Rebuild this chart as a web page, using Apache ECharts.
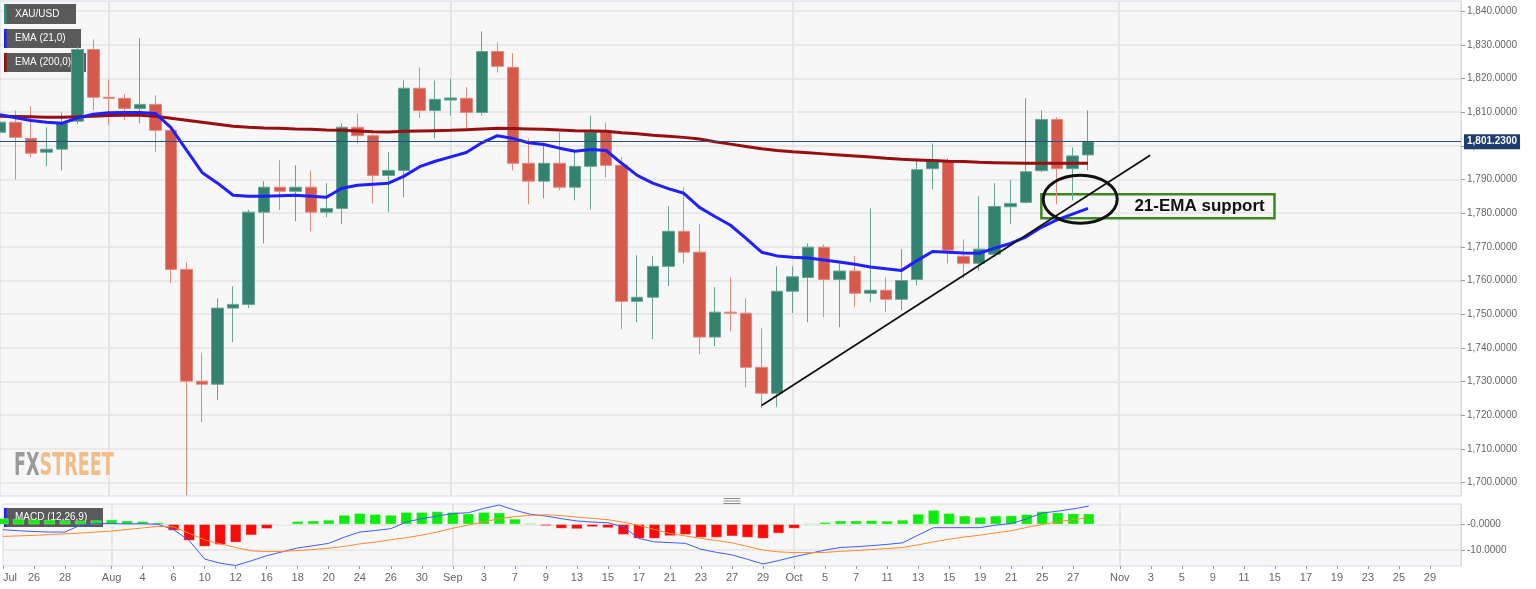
<!DOCTYPE html>
<html>
<head>
<meta charset="utf-8">
<title>XAU/USD daily</title>
<script src="https://cdn.jsdelivr.net/npm/echarts@6.0.0/dist/echarts.min.js"></script>
<style>
  html, body { margin: 0; padding: 0; background: #fff; }
  #chart { width: 1536px; height: 589px; }
</style>
</head>
<body>
<div id="chart"></div>
<script>
// trading days shown on the axis (Jul 22 - Dec 1, 2021)
const categories = [
  '2021-07-22','2021-07-23','2021-07-26','2021-07-27','2021-07-28','2021-07-29','2021-07-30',
  '2021-08-02','2021-08-03','2021-08-04','2021-08-05','2021-08-06','2021-08-09','2021-08-10','2021-08-11','2021-08-12','2021-08-13',
  '2021-08-16','2021-08-17','2021-08-18','2021-08-19','2021-08-20','2021-08-23','2021-08-24','2021-08-25','2021-08-26','2021-08-27',
  '2021-08-30','2021-08-31',
  '2021-09-01','2021-09-02','2021-09-03','2021-09-06','2021-09-07','2021-09-08','2021-09-09','2021-09-10',
  '2021-09-13','2021-09-14','2021-09-15','2021-09-16','2021-09-17','2021-09-20','2021-09-21','2021-09-22','2021-09-23','2021-09-24',
  '2021-09-27','2021-09-28','2021-09-29','2021-09-30',
  '2021-10-01','2021-10-04','2021-10-05','2021-10-06','2021-10-07','2021-10-08','2021-10-11','2021-10-12','2021-10-13','2021-10-14','2021-10-15',
  '2021-10-18','2021-10-19','2021-10-20','2021-10-21','2021-10-22','2021-10-25','2021-10-26','2021-10-27','2021-10-28','2021-10-29',
  '2021-11-01','2021-11-02','2021-11-03','2021-11-04','2021-11-05','2021-11-08','2021-11-09','2021-11-10','2021-11-11','2021-11-12',
  '2021-11-15','2021-11-16','2021-11-17','2021-11-18','2021-11-19','2021-11-22','2021-11-23','2021-11-24','2021-11-25','2021-11-26',
  '2021-11-29','2021-11-30','2021-12-01'
];

const opens = [
  1804.0, 1807.0, 1802.2, 1798.1, 1799.0, 1807.3, 1828.6, 1814.4, 1814.1, 1811.1,
  1812.3, 1804.6, 1763.3, 1730.1, 1729.2, 1751.8, 1752.9, 1780.3, 1787.7, 1786.5,
  1787.7, 1780.3, 1781.4, 1805.5, 1803.0, 1791.2, 1792.7, 1817.1, 1810.5, 1813.6,
  1814.1, 1809.9, 1828.0, 1823.3, 1794.8, 1789.5, 1794.8, 1787.7, 1793.9, 1804.0,
  1794.2, 1753.8, 1755.0, 1764.2, 1774.6, 1768.4, 1743.2, 1750.6, 1750.3, 1734.2,
  1726.5, 1756.8, 1760.9, 1769.9, 1760.3, 1762.8, 1756.2, 1757.1, 1754.4, 1760.3,
  1793.2, 1795.4, 1767.2, 1765.1, 1767.8, 1781.9, 1783.2, 1792.6, 1807.8, 1793.2,
  1797.3
];
const closes = [
  1807.0, 1802.5, 1797.8, 1799.0, 1806.7, 1828.6, 1814.4, 1814.1, 1811.1, 1812.3,
  1804.6, 1763.3, 1730.1, 1729.2, 1751.8, 1752.9, 1780.3, 1787.7, 1786.5, 1787.7,
  1780.3, 1781.4, 1805.5, 1803.0, 1791.2, 1792.7, 1817.1, 1810.5, 1813.8, 1814.2,
  1809.9, 1828.0, 1823.6, 1794.8, 1789.5, 1794.8, 1787.7, 1793.9, 1804.0, 1794.2,
  1753.8, 1755.0, 1764.2, 1774.6, 1768.4, 1743.2, 1750.6, 1750.3, 1734.2, 1726.5,
  1756.8, 1761.1, 1769.9, 1760.3, 1762.8, 1756.2, 1757.1, 1754.4, 1760.0, 1792.9,
  1795.7, 1769.0, 1765.1, 1769.3, 1782.0, 1782.9, 1792.3, 1807.8, 1793.2, 1797.0,
  1801.23
];
// Aug 9 low runs off the bottom of the visible price range
const lows = [
  1793.3, 1790.0, 1796.6, 1793.9, 1792.7, 1806.5, 1810.5, 1806.1, 1807.6, 1806.7,
  1798.1, 1759.2, 1696.2, 1717.9, 1724.5, 1741.7, 1751.8, 1771.0, 1780.9, 1777.6,
  1774.6, 1778.8, 1776.7, 1800.7, 1782.9, 1780.3, 1784.7, 1808.2, 1802.2, 1809.0,
  1805.2, 1809.0, 1821.8, 1792.7, 1782.6, 1784.4, 1786.8, 1783.8, 1781.1, 1790.6,
  1745.5, 1747.6, 1742.6, 1758.3, 1765.1, 1738.1, 1740.5, 1744.9, 1728.3, 1722.1,
  1722.4, 1750.3, 1747.6, 1749.1, 1746.1, 1752.1, 1753.5, 1750.6, 1751.2, 1758.6,
  1787.1, 1765.1, 1760.6, 1763.0, 1767.0, 1776.7, 1782.9, 1792.1, 1782.6, 1783.8,
  1792.7
];
const highs = [
  1809.9, 1810.5, 1811.7, 1805.5, 1809.9, 1829.5, 1831.6, 1819.7, 1815.3, 1831.9,
  1815.0, 1805.5, 1765.4, 1738.4, 1754.7, 1758.3, 1781.0, 1789.5, 1795.7, 1794.2,
  1792.7, 1788.9, 1806.7, 1809.6, 1803.5, 1798.1, 1819.4, 1823.3, 1819.4, 1820.0,
  1817.4, 1834.0, 1830.7, 1827.5, 1802.2, 1801.0, 1804.0, 1798.7, 1809.0, 1806.9,
  1796.6, 1767.5, 1767.2, 1782.0, 1787.7, 1776.7, 1758.0, 1760.9, 1754.7, 1745.8,
  1764.2, 1764.2, 1771.0, 1770.7, 1765.1, 1767.2, 1781.4, 1760.9, 1769.3, 1796.3,
  1800.7, 1796.3, 1772.2, 1785.0, 1788.9, 1789.8, 1814.1, 1810.5, 1808.5, 1799.5,
  1810.5
];

const ema21 = [
  1809.2, 1808.3, 1807.5, 1807.0, 1806.7, 1808.3, 1809.4, 1809.8, 1809.9, 1809.9,
  1809.6, 1805.4, 1798.7, 1792.1, 1788.9, 1785.3, 1785.0, 1785.0, 1785.2, 1785.3,
  1785.0, 1784.7, 1787.4, 1788.3, 1788.6, 1788.9, 1791.0, 1793.8, 1795.4, 1796.7,
  1798.0, 1800.9, 1803.0, 1802.2, 1800.9, 1800.4, 1799.3, 1798.4, 1798.9, 1798.6,
  1794.8, 1791.2, 1788.9, 1787.3, 1785.9, 1781.7, 1779.0, 1776.4, 1772.5, 1768.4,
  1767.3, 1766.9, 1766.7, 1766.1, 1765.5, 1764.8, 1764.0, 1763.5, 1763.0, 1765.9,
  1768.6, 1768.4, 1768.2, 1768.1, 1769.6, 1771.0, 1772.9, 1775.8, 1778.0, 1779.7,
  1781.4
];
const ema200 = [
  1808.8, 1808.7, 1808.6, 1808.5, 1808.5, 1808.6, 1808.8, 1809.0, 1809.1, 1809.1,
  1808.8, 1808.2, 1807.6, 1807.0, 1806.4, 1805.8, 1805.5, 1805.3, 1805.2, 1805.0,
  1804.9, 1804.7, 1804.6, 1804.4, 1804.2, 1804.1, 1804.3, 1804.4, 1804.5, 1804.6,
  1804.8, 1805.0, 1805.2, 1805.1, 1805.0, 1804.9, 1804.7, 1804.5, 1804.4, 1804.3,
  1803.9, 1803.6, 1803.1, 1802.8, 1802.5, 1802.0, 1801.2, 1800.5, 1799.8, 1799.1,
  1798.6, 1798.2, 1797.9, 1797.6, 1797.3, 1797.0, 1796.7, 1796.3, 1796.0, 1795.8,
  1795.6, 1795.4, 1795.3, 1795.1, 1795.0, 1794.9, 1794.8, 1794.8, 1794.8, 1794.8,
  1794.8
];

// MACD (12,26,9)
const macdLine = [
  -2.1, -2.5, -2.8, -3.0, -3.0, -0.3, 0.3, 0.3, 0.2, 0.2,
  0.0, -2.1, -6.3, -13.5, -15.1, -16.0, -14.2, -12.2, -10.7, -9.2,
  -8.3, -7.4, -5.0, -3.0, -2.4, -1.7, 0.9, 2.2, 3.2, 4.2,
  4.5, 6.2, 7.5, 5.5, 3.9, 3.2, 2.2, 1.3, 0.9, 0.6,
  -1.0, -5.5, -6.8, -7.1, -7.4, -9.7, -10.9, -11.9, -13.6, -15.4,
  -14.1, -12.6, -11.3, -10.0, -9.0, -8.7, -8.3, -7.8, -7.2, -4.2,
  -1.3, -1.3, -1.3, -1.3, -0.3, 0.3, 2.1, 4.4, 5.1, 6.0,
  7.1
];
const signalLine = [
  -4.7, -4.5, -4.3, -4.0, -3.7, -3.4, -3.0, -2.6, -2.0, -1.4,
  -0.8, -1.0, -3.5, -6.0, -7.6, -9.0, -10.3, -10.6, -10.5, -10.2,
  -9.8, -9.3, -8.6, -7.6, -6.9, -6.0, -5.2, -4.2, -3.0, -1.5,
  -0.3, 1.0, 2.2, 3.0, 3.5, 3.7, 3.4, 2.8, 2.3, 1.8,
  0.8, -0.4, -2.0, -3.6, -4.5, -5.5, -6.3, -7.2, -8.6, -10.0,
  -10.7, -11.0, -11.0, -10.9, -10.5, -10.2, -9.8, -9.4, -9.0, -8.0,
  -6.8, -5.8, -4.9, -4.2, -3.3, -2.5, -1.2, -0.1, 1.0, 1.8,
  2.6
];
const macdHist = [
  2.3, 2.1, 1.9, 1.7, 1.5, 1.4, 1.5, 1.8, 1.4, 1.2,
  0.65, -2.4, -6.3, -8.6, -7.9, -7.0, -4.2, -1.7, -0.1, 1.2,
  1.4, 1.7, 3.6, 4.3, 3.9, 3.6, 4.7, 4.7, 5.0, 4.7,
  4.1, 4.7, 4.5, 2.1, 0.4, -0.6, -1.6, -1.8, -1.0, -1.4,
  -4.0, -5.5, -5.5, -4.5, -4.0, -5.1, -5.1, -4.6, -5.1, -5.5,
  -3.5, -1.6, 0.3, 0.8, 1.4, 1.4, 1.5, 1.3, 1.7, 4.0,
  5.5, 4.3, 3.3, 2.8, 3.3, 3.4, 3.9, 5.0, 4.5, 4.2,
  4.1
];

// axis ticks
const priceTicks = [1700, 1710, 1720, 1730, 1740, 1750, 1760, 1770, 1780, 1790, 1800, 1810, 1820, 1830, 1840];
const macdTicks = [-10, 0];
const tickDates = [
  '2021-07-22','2021-07-26','2021-07-28','2021-08-02','2021-08-04','2021-08-06','2021-08-10','2021-08-12',
  '2021-08-16','2021-08-18','2021-08-20','2021-08-24','2021-08-26','2021-08-30','2021-09-01','2021-09-03',
  '2021-09-07','2021-09-09','2021-09-13','2021-09-15','2021-09-17','2021-09-21','2021-09-23','2021-09-27',
  '2021-09-29','2021-10-01','2021-10-05','2021-10-07','2021-10-11','2021-10-13','2021-10-15','2021-10-19',
  '2021-10-21','2021-10-25','2021-10-27','2021-11-01','2021-11-03','2021-11-05','2021-11-09','2021-11-11',
  '2021-11-15','2021-11-17','2021-11-19','2021-11-23','2021-11-25','2021-11-29'
];
const tickTexts = [
  'Jul','26','28','Aug','4','6','10','12',
  '16','18','20','24','26','30','Sep','3',
  '7','9','13','15','17','21','23','27',
  '29','Oct','5','7','11','13','15','19',
  '21','25','27','Nov','3','5','9','11',
  '15','17','19','23','25','29'
];
const monthStarts = ['2021-08-02','2021-09-01','2021-10-01','2021-11-01'];

const lastPrice = 1801.23;
// annotations (data coordinates)
const trendLine = [['2021-09-29', 1722.9], ['2021-11-03', 1797.2]];
const supportBox = [['2021-10-25', 1785.6], ['2021-11-15', 1778.5]];
const circleDays = ['2021-10-27', '2021-10-28'];
const circleLevel = 1784.1;

const upColor = '#33826f', downColor = '#d65a4b';
const font = '"Liberation Sans", Arial, sans-serif';

function fmt4(v) {
  const parts = Math.abs(v).toFixed(4).split('.');
  const whole = parts[0].replace(/\B(?=(\d{3})+(?!\d))/g, ',');
  return (v < 0 ? '-' : '') + whole + '.' + parts[1];
}
const tickMap = {};
tickDates.forEach((d, i) => { tickMap[d] = tickTexts[i]; });

const candles = opens.map((o, i) => [o, closes[i], lows[i], highs[i]]);

const chart = echarts.init(document.getElementById('chart'));

const xBase = {
  type: 'category',
  data: categories,
  boundaryGap: false,
  axisLine: { show: false, onZero: false },
  splitLine: {
    show: true,
    interval: (idx, val) => monthStarts.indexOf(val) >= 0,
    lineStyle: { color: '#e6e6e6', width: 2 }
  }
};

chart.setOption({
  animation: false,
  backgroundColor: '#ffffff',
  textStyle: { fontFamily: font },
  grid: [
    { left: 0, right: 75, top: 1, height: 495, show: true, backgroundColor: '#f7f7f7', borderColor: '#d3dae8', borderWidth: 1 },
    { left: 0, right: 75, top: 504, height: 62, show: true, backgroundColor: '#f7f7f7', borderColor: '#d3dae8', borderWidth: 1 }
  ],
  xAxis: [
    Object.assign({}, xBase, { gridIndex: 0, axisTick: { show: false }, axisLabel: { show: false } }),
    Object.assign({}, xBase, {
      gridIndex: 1,
      axisTick: {
        show: true, length: 3,
        interval: (idx, val) => tickMap[val] !== undefined,
        lineStyle: { color: '#999' }
      },
      axisLabel: {
        show: true,
        interval: (idx, val) => tickMap[val] !== undefined,
        formatter: (val) => tickMap[val] || '',
        color: '#666', fontSize: 11, margin: 6,
        alignMinLabel: 'left'
      }
    })
  ],
  yAxis: [
    {
      gridIndex: 0, type: 'value', position: 'right',
      min: 1696, max: 1843, minInterval: 10, maxInterval: 10,
      axisLine: { show: true, lineStyle: { color: '#d3dae8' } },
      axisTick: { show: true, length: 4, customValues: priceTicks, lineStyle: { color: '#999' } },
      axisLabel: {
        color: '#666', fontSize: 10, margin: 6, customValues: priceTicks,
        formatter: (v) => (Math.abs(v % 10) < 1e-6 ? fmt4(v) : '')
      },
      splitLine: { lineStyle: { color: '#e4e4e4', width: 1.5 } }
    },
    {
      gridIndex: 1, type: 'value', position: 'right',
      min: -16.2, max: 7.9, minInterval: 10, maxInterval: 10,
      axisLine: { show: true, lineStyle: { color: '#d3dae8' } },
      axisTick: { show: true, length: 4, customValues: macdTicks, lineStyle: { color: '#999' } },
      axisLabel: {
        color: '#666', fontSize: 10, margin: 6, customValues: macdTicks,
        formatter: (v) => {
          if (Math.abs(v % 10) > 1e-6) return '';
          return v === 0 ? '-0.0000' : fmt4(v);
        }
      },
      splitLine: { lineStyle: { color: '#e4e4e4', width: 1.5 } }
    }
  ],
  series: [
    {
      name: 'XAU/USD', type: 'candlestick',
      xAxisIndex: 0, yAxisIndex: 0,
      data: candles, barWidth: 12, clip: true,
      itemStyle: {
        color: upColor, color0: downColor,
        borderColor: '#67a493', borderColor0: '#e3897e', borderWidth: 1
      },
      markLine: {
        silent: true, symbol: 'none',
        lineStyle: { color: '#2b4c80', width: 1, type: 'solid' },
        label: {
          position: 'end', distance: 3,
          formatter: () => fmt4(lastPrice),
          color: '#fff', fontSize: 10, fontWeight: 'bold',
          backgroundColor: '#1f3c6c', padding: [3, 3, 2, 3]
        },
        data: [{ yAxis: lastPrice }]
      }
    },
    {
      name: 'EMA (200,0)', type: 'line',
      xAxisIndex: 0, yAxisIndex: 0,
      data: ema200, symbol: 'none',
      lineStyle: { color: '#990f0f', width: 3 }
    },
    {
      name: 'EMA (21,0)', type: 'line',
      xAxisIndex: 0, yAxisIndex: 0,
      data: ema21, symbol: 'none',
      lineStyle: { color: '#1f1fff', width: 3 },
      markLine: {
        silent: true, symbol: 'none',
        lineStyle: { color: '#111', width: 1.8, type: 'solid' },
        label: { show: false },
        data: [[{ coord: trendLine[0] }, { coord: trendLine[1] }]]
      },
      markArea: {
        silent: true,
        itemStyle: { color: 'rgba(0,0,0,0)', borderColor: '#3c8a1e', borderWidth: 2.5 },
        label: {
          show: true, position: 'insideRight', distance: 11,
          formatter: '21-EMA support',
          color: '#111', fontSize: 17, fontWeight: 'bold', fontFamily: font
        },
        data: [[{ coord: supportBox[0] }, { coord: supportBox[1] }]]
      }
    },
    {
      name: 'Histogram', type: 'bar',
      xAxisIndex: 1, yAxisIndex: 1,
      data: macdHist, barWidth: 11,
      itemStyle: {
        color: (p) => (p.value >= 0 ? '#0aee0a' : '#fb0a0a'),
        borderColor: 'rgba(255,255,255,0.6)', borderWidth: 0.5
      }
    },
    {
      name: 'MACD', type: 'line',
      xAxisIndex: 1, yAxisIndex: 1,
      data: macdLine, symbol: 'none',
      lineStyle: { color: '#4259ff', width: 1 }
    },
    {
      name: 'Signal', type: 'line',
      xAxisIndex: 1, yAxisIndex: 1,
      data: signalLine, symbol: 'none',
      lineStyle: { color: '#ff8a2e', width: 1 }
    }
  ]
});

// overlay: legend boxes, watermark, support circle
function legendBox(y, w, h, stripe, text) {
  return {
    type: 'group', left: 4, top: y, z: 100,
    children: [
      { type: 'rect', shape: { x: 0, y: 0, width: w, height: h }, style: { fill: 'rgba(68,68,68,0.88)' } },
      { type: 'rect', shape: { x: 0, y: 0, width: 2.5, height: h }, style: { fill: stripe } },
      { type: 'text', x: 11, y: h / 2, style: { text: text, fill: '#fff', font: '10px ' + font, verticalAlign: 'middle' } }
    ]
  };
}

const p1 = chart.convertToPixel({ gridIndex: 0 }, [circleDays[0], circleLevel]);
const p2 = chart.convertToPixel({ gridIndex: 0 }, [circleDays[1], circleLevel]);
const markFont = 'bold 32px "DejaVu Sans Condensed", "DejaVu Sans", sans-serif';

chart.setOption({
  graphic: [
    legendBox(4, 72, 20, '#2f8f74', 'XAU/USD'),
    legendBox(29, 77, 19, '#1f1fff', 'EMA (21,0)'),
    legendBox(53, 82, 19, '#990f0f', 'EMA (200,0)'),
    legendBox(508, 99, 19, '#1f1fff', 'MACD (12,26,9)'),
    {
      type: 'text', x: 14, y: 451, scaleX: 0.61, z: 5, silent: true,
      style: {
        text: '{a|FX}{b|STREET}',
        verticalAlign: 'top',
        rich: {
          a: { fill: '#9b9b9b', font: markFont },
          b: { fill: '#f1be88', font: markFont }
        }
      }
    },
    {
      type: 'ellipse', z: 50, silent: true,
      shape: { cx: (p1[0] + p2[0]) / 2, cy: p1[1], rx: 37, ry: 24 },
      style: { fill: 'none', stroke: '#111', lineWidth: 3 }
    },
    {
      type: 'group', left: 721, top: 496, z: 60, silent: true,
      children: [0, 2.5, 5].map((dy) => ({
        type: 'line', shape: { x1: 0, y1: dy, x2: 17, y2: dy },
        style: { stroke: '#8a8a8a', lineWidth: 1 }
      }))
    }
  ]
});
</script>
</body>
</html>
